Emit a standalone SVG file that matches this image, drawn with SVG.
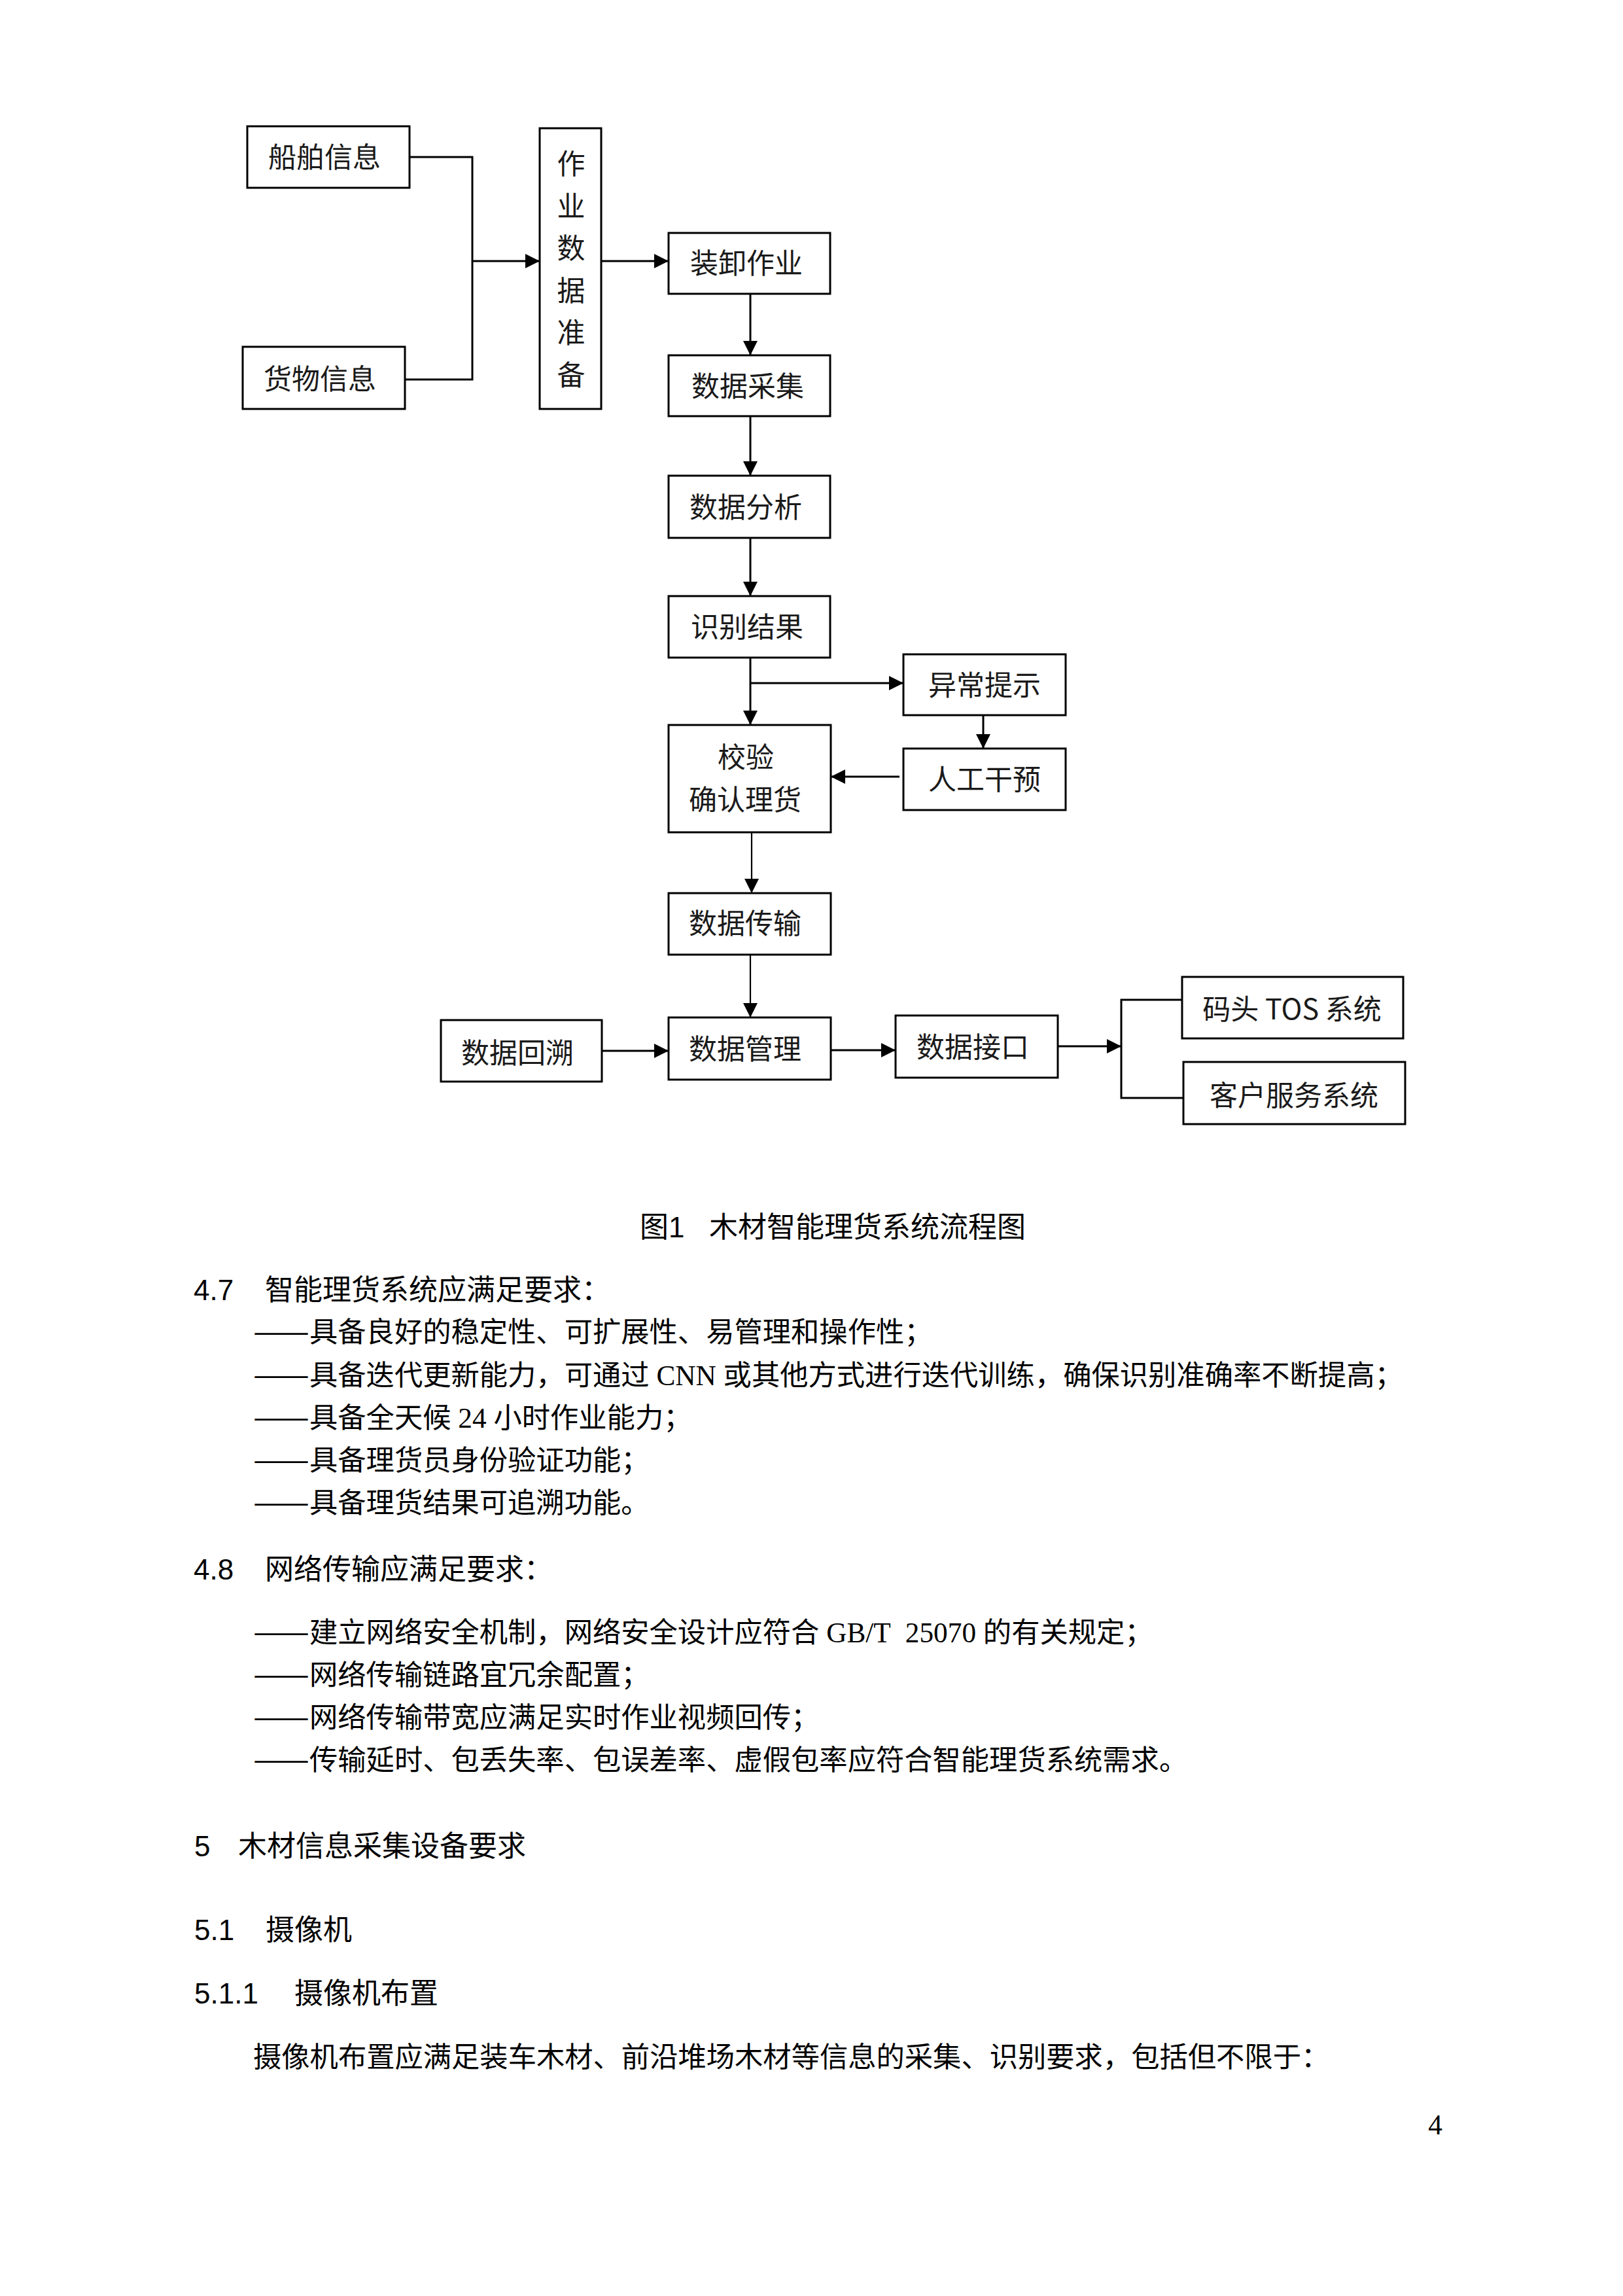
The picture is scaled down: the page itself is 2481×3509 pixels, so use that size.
<svg xmlns="http://www.w3.org/2000/svg" width="2481" height="3509" viewBox="0 0 2481 3509">
<style>
.box{fill:#fff;stroke:#000;stroke-width:3}
.lbl{font-family:"Noto Sans CJK SC","Liberation Sans",sans-serif;font-size:43px;text-anchor:middle;fill:#1a1a1a}
.conn{stroke:#000;stroke-width:3;fill:none}
.thin{stroke-width:2.2}
.cap{font-family:"Liberation Sans","Noto Sans CJK SC",sans-serif;font-size:44px;fill:#000}
.hd{font-family:"Liberation Sans","Noto Sans CJK SC",sans-serif;font-size:44px;fill:#000}
.body{font-family:"Liberation Serif","Noto Sans CJK SC",serif;font-size:43.3px;fill:#000}
.dash{font-family:"Noto Sans CJK SC",sans-serif;font-size:43.3px;fill:#000}
</style>
<defs>
<marker id="arr" markerUnits="userSpaceOnUse" markerWidth="24" markerHeight="24" refX="22" refY="11" orient="auto">
<path d="M0,0 L22,11 L0,22 z" fill="#000"/>
</marker>
</defs>
<rect x="0" y="0" width="2481" height="3509" fill="#fff"/>

<g id="connectors">
<polyline class="conn" points="626,240 722,240 722,580 619,580"/>
<line class="conn" x1="722" y1="399" x2="825" y2="399" marker-end="url(#arr)"/>
<line class="conn" x1="919" y1="399" x2="1022" y2="399" marker-end="url(#arr)"/>
<line class="conn" x1="1147" y1="449" x2="1147" y2="543" marker-end="url(#arr)"/>
<line class="conn" x1="1147" y1="636" x2="1147" y2="727" marker-end="url(#arr)"/>
<line class="conn" x1="1147" y1="822" x2="1147" y2="911" marker-end="url(#arr)"/>
<line class="conn" x1="1147" y1="1005" x2="1147" y2="1108" marker-end="url(#arr)"/>
<line class="conn" x1="1147" y1="1044" x2="1381" y2="1044" marker-end="url(#arr)"/>
<line class="conn" x1="1503" y1="1093" x2="1503" y2="1144" marker-end="url(#arr)"/>
<line class="conn" x1="1375" y1="1187" x2="1270" y2="1187" marker-end="url(#arr)"/>
<line class="conn thin" x1="1149" y1="1272" x2="1149" y2="1365" marker-end="url(#arr)"/>
<line class="conn thin" x1="1147" y1="1459" x2="1147" y2="1555" marker-end="url(#arr)"/>
<line class="conn" x1="920" y1="1606" x2="1022" y2="1606" marker-end="url(#arr)"/>
<line class="conn" x1="1270" y1="1605" x2="1369" y2="1605" marker-end="url(#arr)"/>
<line class="conn" x1="1617" y1="1599" x2="1714" y2="1599" marker-end="url(#arr)"/>
<polyline class="conn" points="1807,1528 1714,1528 1714,1678 1809,1678"/>
</g>

<g id="n-chuanbo"><rect class="box" x="378" y="193" width="248" height="94"/><text class="lbl" x="496" y="256">船舶信息</text></g>
<g id="n-huowu"><rect class="box" x="371" y="530" width="248" height="95"/><text class="lbl" x="489" y="595">货物信息</text></g>
<g id="n-zuoye"><rect class="box" x="825" y="196" width="94" height="429"/>
<text class="lbl" x="873" y="266">作</text>
<text class="lbl" x="873" y="331">业</text>
<text class="lbl" x="873" y="395">数</text>
<text class="lbl" x="873" y="460">据</text>
<text class="lbl" x="873" y="524">准</text>
<text class="lbl" x="873" y="589">备</text>
</g>
<g id="n-zhuangxie"><rect class="box" x="1022" y="356" width="247" height="93"/><text class="lbl" x="1141" y="418">装卸作业</text></g>
<g id="n-caiji"><rect class="box" x="1022" y="543" width="247" height="93"/><text class="lbl" x="1143" y="606">数据采集</text></g>
<g id="n-fenxi"><rect class="box" x="1022" y="727" width="247" height="95"/><text class="lbl" x="1140" y="791">数据分析</text></g>
<g id="n-shibie"><rect class="box" x="1022" y="911" width="247" height="94"/><text class="lbl" x="1142" y="974">识别结果</text></g>
<g id="n-yichang"><rect class="box" x="1381" y="1000" width="248" height="93"/><text class="lbl" x="1505" y="1063">异常提示</text></g>
<g id="n-rengong"><rect class="box" x="1381" y="1144" width="248" height="94"/><text class="lbl" x="1505" y="1207">人工干预</text></g>
<g id="n-jiaoyan"><rect class="box" x="1022" y="1108" width="248" height="164"/><text class="lbl" x="1140" y="1173">校验</text><text class="lbl" x="1139" y="1238">确认理货</text></g>
<g id="n-chuanshu"><rect class="box" x="1022" y="1365" width="248" height="94"/><text class="lbl" x="1139" y="1427">数据传输</text></g>
<g id="n-guanli"><rect class="box" x="1022" y="1555" width="248" height="95"/><text class="lbl" x="1139" y="1619">数据管理</text></g>
<g id="n-jiekou"><rect class="box" x="1369" y="1552" width="248" height="95"/><text class="lbl" x="1487" y="1616">数据接口</text></g>
<g id="n-huisu"><rect class="box" x="674" y="1559" width="246" height="94"/><text class="lbl" x="791" y="1625">数据回溯</text></g>
<g id="n-tos"><rect class="box" x="1807" y="1493" width="338" height="94"/><text class="lbl" x="1975" y="1558">码头 TOS 系统</text></g>
<g id="n-kehu"><rect class="box" x="1809" y="1623" width="339" height="95"/><text class="lbl" x="1978" y="1690">客户服务系统</text></g>

<g id="text">
<text class="cap" x="978" y="1891">图1</text>
<text class="cap" x="1084" y="1891">木材智能理货系统流程图</text>

<text class="hd" x="296" y="1987">4.7</text>
<text class="hd" x="405" y="1987">智能理货系统应满足要求：</text>
<text class="dash" x="387" y="2051" textLength="86" lengthAdjust="spacingAndGlyphs">——</text>
<text class="body" x="473" y="2051">具备良好的稳定性、可扩展性、易管理和操作性；</text>
<text class="dash" x="387" y="2117" textLength="86" lengthAdjust="spacingAndGlyphs">——</text>
<text class="body" x="473" y="2117">具备迭代更新能力，可通过 CNN 或其他方式进行迭代训练，确保识别准确率不断提高；</text>
<text class="dash" x="387" y="2182" textLength="86" lengthAdjust="spacingAndGlyphs">——</text>
<text class="body" x="473" y="2182">具备全天候 24 小时作业能力；</text>
<text class="dash" x="387" y="2247" textLength="86" lengthAdjust="spacingAndGlyphs">——</text>
<text class="body" x="473" y="2247">具备理货员身份验证功能；</text>
<text class="dash" x="387" y="2312" textLength="86" lengthAdjust="spacingAndGlyphs">——</text>
<text class="body" x="473" y="2312">具备理货结果可追溯功能。</text>

<text class="hd" x="296" y="2414">4.8</text>
<text class="hd" x="405" y="2414">网络传输应满足要求：</text>
<text class="dash" x="387" y="2510" textLength="86" lengthAdjust="spacingAndGlyphs">——</text>
<text class="body" x="473" y="2510">建立网络安全机制，网络安全设计应符合 GB/T<tspan dx="22">25070</tspan> 的有关规定；</text>
<text class="dash" x="387" y="2575" textLength="86" lengthAdjust="spacingAndGlyphs">——</text>
<text class="body" x="473" y="2575">网络传输链路宜冗余配置；</text>
<text class="dash" x="387" y="2640" textLength="86" lengthAdjust="spacingAndGlyphs">——</text>
<text class="body" x="473" y="2640">网络传输带宽应满足实时作业视频回传；</text>
<text class="dash" x="387" y="2705" textLength="86" lengthAdjust="spacingAndGlyphs">——</text>
<text class="body" x="473" y="2705">传输延时、包丢失率、包误差率、虚假包率应符合智能理货系统需求。</text>

<text class="hd" x="297" y="2837">5</text>
<text class="hd" x="364" y="2837">木材信息采集设备要求</text>
<text class="hd" x="297" y="2965">5.1</text>
<text class="hd" x="406" y="2965">摄像机</text>
<text class="hd" x="297" y="3062">5.1.1</text>
<text class="hd" x="450" y="3062">摄像机布置</text>
<text class="body" x="387" y="3159">摄像机布置应满足装车木材、前沿堆场木材等信息的采集、识别要求，包括但不限于：</text>

<text class="body" x="2194" y="3262" text-anchor="middle" font-size="38">4</text>
</g>
</svg>
